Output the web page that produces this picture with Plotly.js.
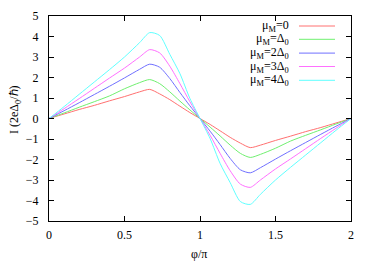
<!DOCTYPE html>
<html><head><meta charset="utf-8">
<script src="https://cdn.plot.ly/plotly-3.0.1.min.js"></script>
<style>html,body{margin:0;padding:0;background:#fff;}#chart{width:374px;height:262px;}</style>
</head><body><div id="chart"></div>
<script>
const phi = [0,0.1,0.2,0.3,0.4,0.5,0.6,0.667,0.733,0.8,0.867,0.933,1,1.067,1.133,1.2,1.267,1.333,1.4,1.5,1.6,1.7,1.8,1.9,2];
const mu0 = [0,0.22,0.44,0.64,0.86,1.07,1.3,1.42,1.2,0.92,0.6,0.29,0,-0.29,-0.6,-0.92,-1.2,-1.42,-1.3,-1.07,-0.86,-0.64,-0.44,-0.22,0];
const mu1 = [0,0.27,0.55,0.82,1.1,1.45,1.75,1.9,1.7,1.3,0.85,0.42,0,-0.42,-0.85,-1.3,-1.7,-1.9,-1.75,-1.45,-1.1,-0.82,-0.55,-0.27,0];
const mu2 = [0,0.38,0.77,1.17,1.57,1.98,2.4,2.65,2.5,1.95,1.27,0.62,0,-0.62,-1.27,-1.95,-2.5,-2.65,-2.4,-1.98,-1.57,-1.17,-0.77,-0.38,0];
const mu3 = [0,0.48,0.97,1.47,1.97,2.46,3.0,3.36,3.2,2.55,1.7,0.82,0,-0.82,-1.7,-2.55,-3.2,-3.36,-3.0,-2.46,-1.97,-1.47,-0.97,-0.48,0];
const mu4 = [0,0.58,1.18,1.78,2.38,3.0,3.7,4.19,4.05,3.13,2.19,0.98,0,-0.98,-2.19,-3.13,-4.05,-4.19,-3.7,-3.0,-2.38,-1.78,-1.18,-0.58,0];
const names = ['μ<sub>M</sub>=0','μ<sub>M</sub>=Δ<sub>0</sub>','μ<sub>M</sub>=2Δ<sub>0</sub>','μ<sub>M</sub>=3Δ<sub>0</sub>','μ<sub>M</sub>=4Δ<sub>0</sub>'];
const colors = ['#ff7070','#70f070','#7070ff','#ff70ff','#60ffff'];
const series = [mu0,mu1,mu2,mu3,mu4];
const xTitle = 'φ/π';
const yTitle = 'I (2eΔ<sub>0</sub>/ℏ)';

const traces = series.map((s,i)=>({x:phi,y:s,type:'scatter',mode:'lines',name:names[i],
  line:{color:colors[i],width:1,shape:'spline',smoothing:0.7},showlegend:false,hoverinfo:'skip'}));

const W=374,H=262,L=49,R=23,T=16,B=41;
const pw=W-L-R, ph=H-T-B;
const font={family:'Liberation Serif, serif',size:12,color:'#000'};
const rowsY=[26,39.3,53.1,66.5,80.3];
const annotations=[], shapes=[];
rowsY.forEach((py,i)=>{
  const yp=1-(py-T)/ph;
  annotations.push({xref:'paper',yref:'paper',x:(291-L)/pw,y:yp,xanchor:'right',yanchor:'middle',
    text:names[i],showarrow:false,font:font});
  shapes.push({type:'line',xref:'paper',yref:'paper',x0:(299-L)/pw,x1:(335-L)/pw,y0:yp,y1:yp,
    line:{color:colors[i],width:1}});
});
annotations.push({xref:'paper',yref:'paper',x:(199-L)/pw,y:1-(254-T)/ph,xanchor:'center',yanchor:'middle',
  text:xTitle,showarrow:false,font:font});
annotations.push({xref:'paper',yref:'paper',x:(15-L)/pw,y:1-(110-T)/ph,xanchor:'center',yanchor:'middle',
  text:yTitle,showarrow:false,textangle:-90,font:font});

const axisCommon={showgrid:false,zeroline:false,showline:true,linecolor:'#000',linewidth:1,mirror:'ticks',
  ticks:'inside',ticklen:5,tickcolor:'#000',tickfont:{family:'Liberation Serif, serif',size:12,color:'#000'}};
const layout={width:W,height:H,margin:{l:L,r:R,t:T,b:B,pad:0},paper_bgcolor:'#fff',plot_bgcolor:'#fff',
  xaxis:Object.assign({},axisCommon,{range:[0,2],tickvals:[0,0.5,1,1.5,2],ticktext:['0','0.5','1','1.5','2'],ticklabelstandoff:3}),
  yaxis:Object.assign({},axisCommon,{range:[-5,5],dtick:1,ticklabelstandoff:7}),
  annotations:annotations,shapes:shapes,showlegend:false};
Plotly.newPlot('chart',traces,layout,{staticPlot:true});
</script></body></html>
